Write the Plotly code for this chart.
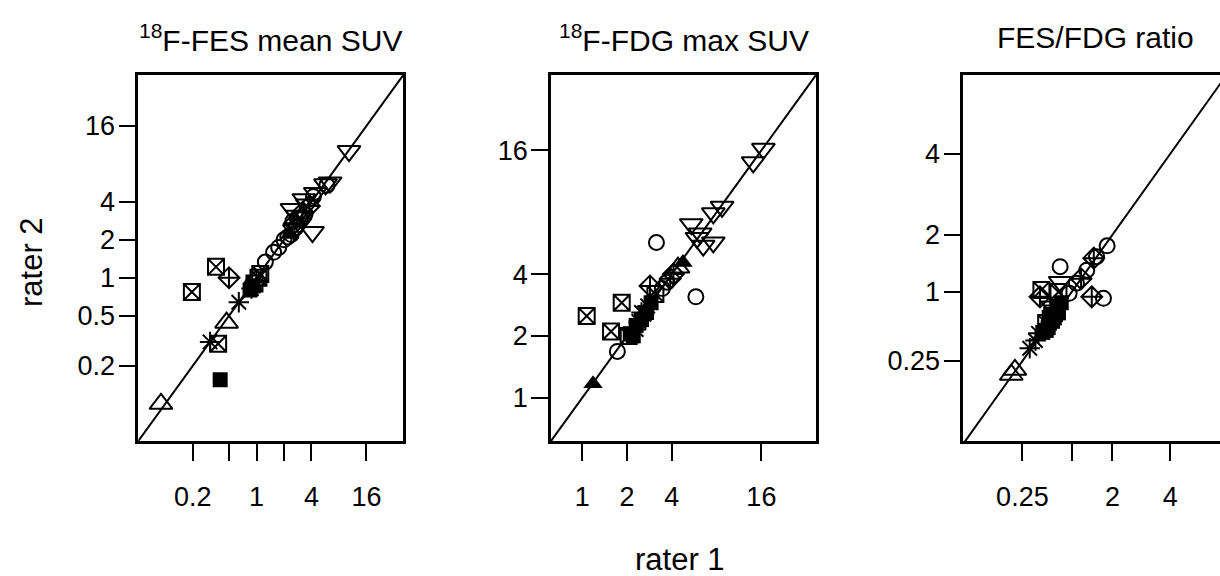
import numpy as np
import plotly.graph_objects as go

# ---------------- data ----------------
# group codes: A=open triangle up, B=open triangle down, C=open circle,
# D=boxed cross, E=diamond plus, F=asterisk, G=filled square, H=filled triangle

fes_rater1 = [0.09, 0.47, 0.40, 0.85, 0.92, 0.31, 0.64, 0.88, 0.38, 0.196, 0.36, 1.05, 1.10, 0.95,
              0.50, 1.00, 2.6, 3.2, 3.8, 1.25, 1.54, 1.75, 2.0, 2.2, 2.4, 2.7, 3.0, 2.5, 4.2, 5.9, 3.4,
              2.45, 3.3, 4.1, 4.4, 5.7, 6.4, 10.3, 2.8, 3.0, 2.6, 3.6, 2.3]
fes_rater2 = [0.10, 0.44, 0.155, 0.80, 0.86, 0.31, 0.64, 0.82, 0.30, 0.77, 1.22, 1.00, 1.07, 0.90,
              1.00, 0.95, 2.7, 3.3, 3.7, 1.33, 1.59, 1.74, 2.0, 2.1, 2.2, 2.5, 2.9, 2.8, 4.4, 5.4, 3.2,
              3.5, 4.2, 2.3, 4.7, 5.5, 5.7, 10.1, 3.1, 2.7, 2.4, 3.8, 2.2]
fes_group = ["A", "A", "G", "G", "G", "F", "F", "F", "D", "D", "D", "D", "D", "D",
             "E", "E", "E", "E", "E", "C", "C", "C", "C", "C", "C", "C", "C", "C", "C", "C", "C",
             "B", "B", "B", "B", "B", "B", "B", "B", "B", "B", "B", "H"]

fdg_rater1 = [1.18, 4.75, 1.72, 3.15, 5.8, 3.7, 3.45, 1.07, 1.56, 1.84, 3.1, 2.05,
              2.85, 4.1, 3.9, 2.1, 2.3, 2.5, 2.7, 2.9, 2.2, 2.4, 2.6, 2.75, 2.3, 2.5,
              4.4, 5.4, 6.2, 6.5, 7.6, 7.6, 8.7, 14.1, 16.5, 5.9]
fdg_rater2 = [1.17, 4.55, 1.68, 5.7, 3.1, 3.65, 3.4, 2.5, 2.1, 2.9, 3.2, 2.0,
              3.5, 4.0, 3.8, 2.05, 2.25, 2.4, 2.6, 2.9, 2.0, 2.35, 2.55, 2.8, 2.15, 2.6,
              4.3, 7.0, 6.3, 5.5, 5.7, 7.9, 8.5, 14.0, 16.3, 6.0]
fdg_group = ["H", "H", "C", "C", "C", "C", "C", "D", "D", "D", "D", "D",
             "E", "E", "E", "G", "G", "G", "G", "G", "G", "F", "F", "F", "F", "F",
             "A", "B", "B", "B", "B", "B", "B", "B", "B", "B"]

ratio_rater1 = [0.15, 0.18, 0.33, 0.44, 0.40, 0.46, 1.45, 1.20, 1.50, 0.48, 0.75, 0.55, 0.62,
                0.78, 0.65, 0.70, 0.78, 1.85, 1.75, 1.10, 1.33, 1.57, 0.95,
                0.50, 0.55, 0.60, 0.65, 0.70, 0.75, 0.80, 0.58, 0.68, 0.62, 0.72]
ratio_rater2 = [0.16, 0.19, 0.35, 0.49, 0.42, 0.93, 0.93, 1.20, 1.55, 1.03, 1.00, 0.60, 0.65,
                1.15, 0.80, 0.75, 1.40, 1.78, 0.91, 1.13, 1.34, 1.575, 0.98,
                0.50, 0.52, 0.60, 0.62, 0.70, 0.72, 0.85, 0.55, 0.66, 0.70, 0.80]
ratio_group = ["A", "A", "F", "F", "F", "E", "E", "E", "E", "D", "D", "D", "D",
               "B", "B", "B", "C", "C", "C", "C", "C", "C", "C",
               "G", "G", "G", "G", "G", "G", "G", "G", "G", "G", "G"]

panel_titles = ["<sup>18</sup>F-FES mean SUV", "<sup>18</sup>F-FDG max SUV", "FES/FDG ratio"]

fes_ticks = [0.2, 0.5, 1, 2, 4, 16]
fes_xlabels = ["0.2", "", "1", "", "4", "16"]
fes_ylabels = ["0.2", "0.5", "1", "2", "4", "16"]
fdg_ticks = [1, 2, 4, 16]
fdg_labels = ["1", "2", "4", "16"]
ratio_ticks = [0.25, 1, 2, 4]
ratio_xlabels = ["0.25", "", "2", "4"]
ratio_ylabels = ["0.25", "1", "2", "4"]

# axis limits (data units; ratio panel drawn on a square-root scale)
fes_lim = [2 ** -4.3, 2 ** 5.34]
fdg_lim = [2 ** -0.7, 2 ** 5.22]
ratio_xlim_sqrt = [-0.1, 2.506]
ratio_ylim_sqrt = [-0.08, 2.572]

# ---------------- styles ----------------
FONT = "Liberation Sans, Arial, sans-serif"
sym = {"A": ("triangle-up-open", 20), "B": ("triangle-down-open", 20), "C": ("circle-open", 15),
       "D": ("square-x-open", 16), "E": ("diamond-cross-open", 16), "F": ("asterisk-open", 17),
       "G": ("square", 15), "H": ("triangle-up", 17)}

W, H = 1220, 576
px_x = [(138.3, 403.3), (551.0, 816.0), (963.3, 1220.0)]
px_y = (75.0, 441.0)

fig = go.Figure()


def add_points(xs, ys, gs, idx):
    xa = "x" if idx == 1 else f"x{idx}"
    ya = "y" if idx == 1 else f"y{idx}"
    for g in ["A", "B", "C", "D", "E", "F", "G", "H"]:
        sel = [i for i, v in enumerate(gs) if v == g]
        if not sel:
            continue
        s, size = sym[g]
        filled = not s.endswith("open")
        fig.add_trace(go.Scatter(
            x=[xs[i] for i in sel], y=[ys[i] for i in sel], mode="markers",
            xaxis=xa, yaxis=ya, showlegend=False, hoverinfo="skip",
            marker=dict(symbol=s, size=size, color="black",
                        line=dict(color="black", width=0 if filled else 2))))


# identity lines
fig.add_trace(go.Scatter(x=[fes_lim[0] / 2, fes_lim[1] * 2], y=[fes_lim[0] / 2, fes_lim[1] * 2],
                         mode="lines", line=dict(color="black", width=2), xaxis="x", yaxis="y",
                         showlegend=False, hoverinfo="skip"))
fig.add_trace(go.Scatter(x=[fdg_lim[0] / 2, fdg_lim[1] * 2], y=[fdg_lim[0] / 2, fdg_lim[1] * 2],
                         mode="lines", line=dict(color="black", width=2), xaxis="x2", yaxis="y2",
                         showlegend=False, hoverinfo="skip"))
fig.add_trace(go.Scatter(x=[ratio_xlim_sqrt[0] - 0.5, ratio_ylim_sqrt[1] + 0.5],
                         y=[ratio_xlim_sqrt[0] - 0.5, ratio_ylim_sqrt[1] + 0.5],
                         mode="lines", line=dict(color="black", width=2), xaxis="x3", yaxis="y3",
                         showlegend=False, hoverinfo="skip"))

add_points(fes_rater1, fes_rater2, fes_group, 1)
add_points(fdg_rater1, fdg_rater2, fdg_group, 2)
add_points(list(np.sqrt(ratio_rater1)), list(np.sqrt(ratio_rater2)), ratio_group, 3)

ydom = [1 - px_y[1] / H, 1 - px_y[0] / H]
common = dict(showgrid=False, zeroline=False, showline=True, linecolor="black", linewidth=2.5,
              ticks="outside", ticklen=17, tickwidth=2, tickcolor="black",
              tickfont=dict(family=FONT, size=27, color="black"))

layout = dict(width=W, height=H, margin=dict(l=0, r=0, t=0, b=0),
              paper_bgcolor="white", plot_bgcolor="white", showlegend=False)

XSO, YSO = 13, -2
layout["xaxis"] = dict(common, type="log", domain=[px_x[0][0] / W, px_x[0][1] / W],
                       range=list(np.log10(fes_lim)), tickvals=fes_ticks, ticktext=fes_xlabels,
                       anchor="y", mirror=True, ticklabelstandoff=XSO)
layout["yaxis"] = dict(common, type="log", domain=ydom, range=list(np.log10(fes_lim)),
                       tickvals=fes_ticks, ticktext=fes_ylabels, anchor="x", mirror=True,
                       ticklabelstandoff=YSO)
layout["xaxis2"] = dict(common, type="log", domain=[px_x[1][0] / W, px_x[1][1] / W],
                        range=list(np.log10(fdg_lim)), tickvals=fdg_ticks, ticktext=fdg_labels,
                        anchor="y2", mirror=True, ticklabelstandoff=XSO)
layout["yaxis2"] = dict(common, type="log", domain=ydom, range=list(np.log10(fdg_lim)),
                        tickvals=fdg_ticks, ticktext=fdg_labels, anchor="x2", mirror=True,
                        ticklabelstandoff=YSO)
layout["xaxis3"] = dict(common, type="linear", domain=[px_x[2][0] / W, 1.0],
                        range=ratio_xlim_sqrt, tickvals=list(np.sqrt(ratio_ticks)),
                        ticktext=ratio_xlabels, anchor="y3", mirror=True, ticklabelstandoff=XSO)
layout["yaxis3"] = dict(common, type="linear", domain=ydom, range=ratio_ylim_sqrt,
                        tickvals=list(np.sqrt(ratio_ticks)), ticktext=ratio_ylabels,
                        anchor="x3", mirror=False, ticklabelstandoff=YSO)

title_cx = [(px_x[0][0] + px_x[0][1]) / 2, (px_x[1][0] + px_x[1][1]) / 2, 1095.0]
annotations = []
for t, cx in zip(panel_titles, title_cx):
    annotations.append(dict(text=t, x=cx / W, y=1 - 38 / H, xref="paper", yref="paper",
                            xanchor="center", yanchor="middle", showarrow=False,
                            font=dict(family=FONT, size=30, color="black")))
annotations.append(dict(text="rater 1", x=680 / W, y=1 - 559 / H, xref="paper", yref="paper",
                        xanchor="center", yanchor="middle", showarrow=False,
                        font=dict(family=FONT, size=31, color="black")))
annotations.append(dict(text="rater 2", x=31 / W, y=1 - 262 / H, xref="paper", yref="paper",
                        xanchor="center", yanchor="middle", showarrow=False, textangle=-90,
                        font=dict(family=FONT, size=31, color="black")))
layout["annotations"] = annotations

fig.update_layout(**layout)
fig.write_html("out.html", config={"displayModeBar": False},
               post_script="document.body.style.margin='0';document.body.style.overflow='hidden';")
